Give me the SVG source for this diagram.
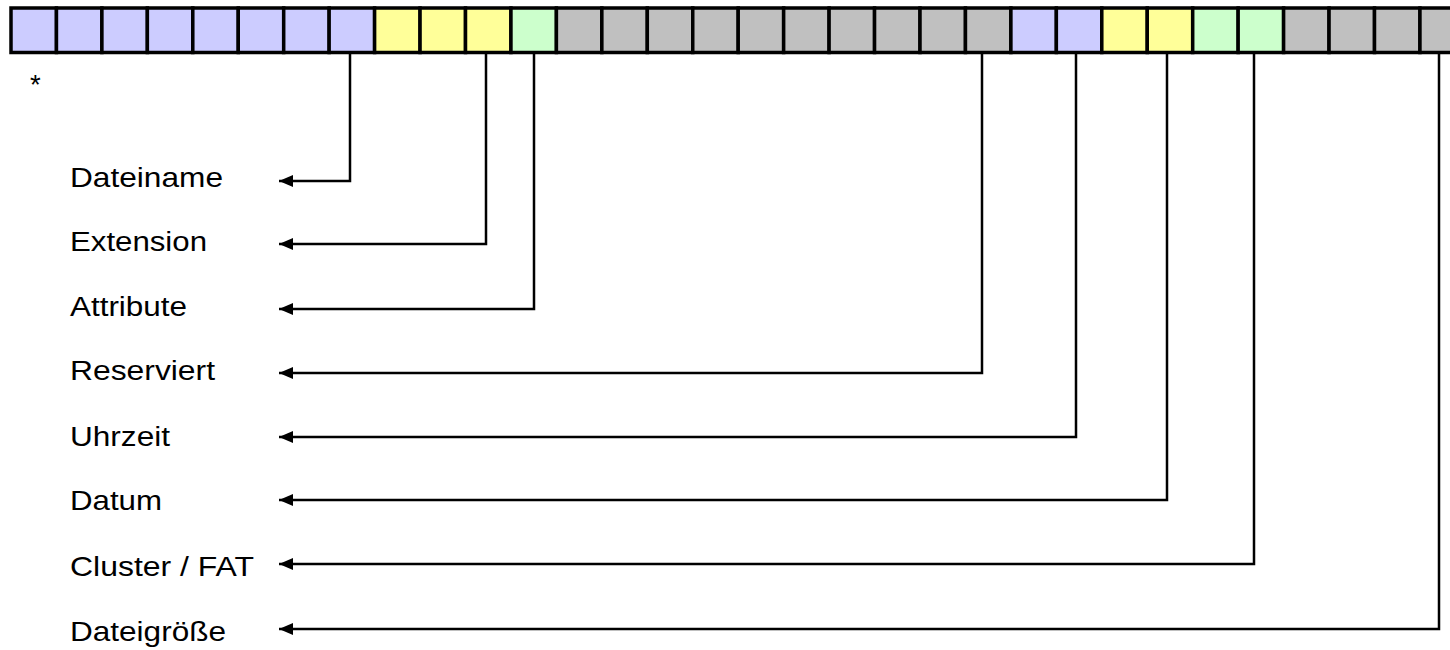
<svg xmlns="http://www.w3.org/2000/svg" width="1450" height="650" viewBox="0 0 1450 650">
<defs>
<style>
.c{stroke:#000;stroke-width:3.5}
.b{fill:#CCCCFF}.y{fill:#FFFF99}.g{fill:#CCFFCC}.r{fill:#C0C0C0}
.t{font-family:"Liberation Sans",Arial,sans-serif;font-size:27.5px;fill:#000}
.l{fill:none;stroke:#000;stroke-width:2.5;marker-end:url(#ah)}
</style>
<marker id="ah" markerUnits="userSpaceOnUse" markerWidth="14" markerHeight="12" refX="14" refY="6" orient="auto" viewBox="0 0 14 12">
<path d="M0,0 L14,6 L0,12 Z" fill="#000"/>
</marker>
</defs>
<rect width="1450" height="650" fill="#fff"/>
<g id="cells">
<rect class="c b" x="11" y="8" width="45.45" height="44.5"/>
<rect class="c b" x="56.45" y="8" width="45.45" height="44.5"/>
<rect class="c b" x="101.9" y="8" width="45.45" height="44.5"/>
<rect class="c b" x="147.35" y="8" width="45.45" height="44.5"/>
<rect class="c b" x="192.8" y="8" width="45.45" height="44.5"/>
<rect class="c b" x="238.25" y="8" width="45.45" height="44.5"/>
<rect class="c b" x="283.7" y="8" width="45.45" height="44.5"/>
<rect class="c b" x="329.15" y="8" width="45.45" height="44.5"/>
<rect class="c y" x="374.6" y="8" width="45.45" height="44.5"/>
<rect class="c y" x="420.05" y="8" width="45.45" height="44.5"/>
<rect class="c y" x="465.5" y="8" width="45.45" height="44.5"/>
<rect class="c g" x="510.95" y="8" width="45.45" height="44.5"/>
<rect class="c r" x="556.4" y="8" width="45.45" height="44.5"/>
<rect class="c r" x="601.85" y="8" width="45.45" height="44.5"/>
<rect class="c r" x="647.3" y="8" width="45.45" height="44.5"/>
<rect class="c r" x="692.75" y="8" width="45.45" height="44.5"/>
<rect class="c r" x="738.2" y="8" width="45.45" height="44.5"/>
<rect class="c r" x="783.65" y="8" width="45.45" height="44.5"/>
<rect class="c r" x="829.1" y="8" width="45.45" height="44.5"/>
<rect class="c r" x="874.55" y="8" width="45.45" height="44.5"/>
<rect class="c r" x="920" y="8" width="45.45" height="44.5"/>
<rect class="c r" x="965.45" y="8" width="45.45" height="44.5"/>
<rect class="c b" x="1010.9" y="8" width="45.45" height="44.5"/>
<rect class="c b" x="1056.35" y="8" width="45.45" height="44.5"/>
<rect class="c y" x="1101.8" y="8" width="45.45" height="44.5"/>
<rect class="c y" x="1147.25" y="8" width="45.45" height="44.5"/>
<rect class="c g" x="1192.7" y="8" width="45.45" height="44.5"/>
<rect class="c g" x="1238.15" y="8" width="45.45" height="44.5"/>
<rect class="c r" x="1283.6" y="8" width="45.45" height="44.5"/>
<rect class="c r" x="1329.05" y="8" width="45.45" height="44.5"/>
<rect class="c r" x="1374.5" y="8" width="45.45" height="44.5"/>
<rect class="c r" x="1419.95" y="8" width="45.45" height="44.5"/>
</g>
<text class="t" x="30" y="94">*</text>
<g id="connectors">
<path class="l" d="M350,54 V181 H279"/>
<path class="l" d="M486,54 V244 H279"/>
<path class="l" d="M534,54 V309 H279"/>
<path class="l" d="M982,54 V373 H279"/>
<path class="l" d="M1076,54 V437 H279"/>
<path class="l" d="M1167,54 V500 H279"/>
<path class="l" d="M1254,54 V564 H279"/>
<path class="l" d="M1439,54 V629 H279"/>
</g>
<g id="n1"><text class="t" x="70" y="187" textLength="153" lengthAdjust="spacingAndGlyphs">Dateiname</text></g>
<g id="n2"><text class="t" x="70" y="251" textLength="137" lengthAdjust="spacingAndGlyphs">Extension</text></g>
<g id="n3"><text class="t" x="70" y="316" textLength="117" lengthAdjust="spacingAndGlyphs">Attribute</text></g>
<g id="n4"><text class="t" x="70" y="380" textLength="145" lengthAdjust="spacingAndGlyphs">Reserviert</text></g>
<g id="n5"><text class="t" x="70" y="446" textLength="100" lengthAdjust="spacingAndGlyphs">Uhrzeit</text></g>
<g id="n6"><text class="t" x="70" y="510" textLength="92" lengthAdjust="spacingAndGlyphs">Datum</text></g>
<g id="n7"><text class="t" x="70" y="576" textLength="184" lengthAdjust="spacingAndGlyphs">Cluster / FAT</text></g>
<g id="n8"><text class="t" x="70" y="641" textLength="156" lengthAdjust="spacingAndGlyphs">Dateigröße</text></g>
</svg>
